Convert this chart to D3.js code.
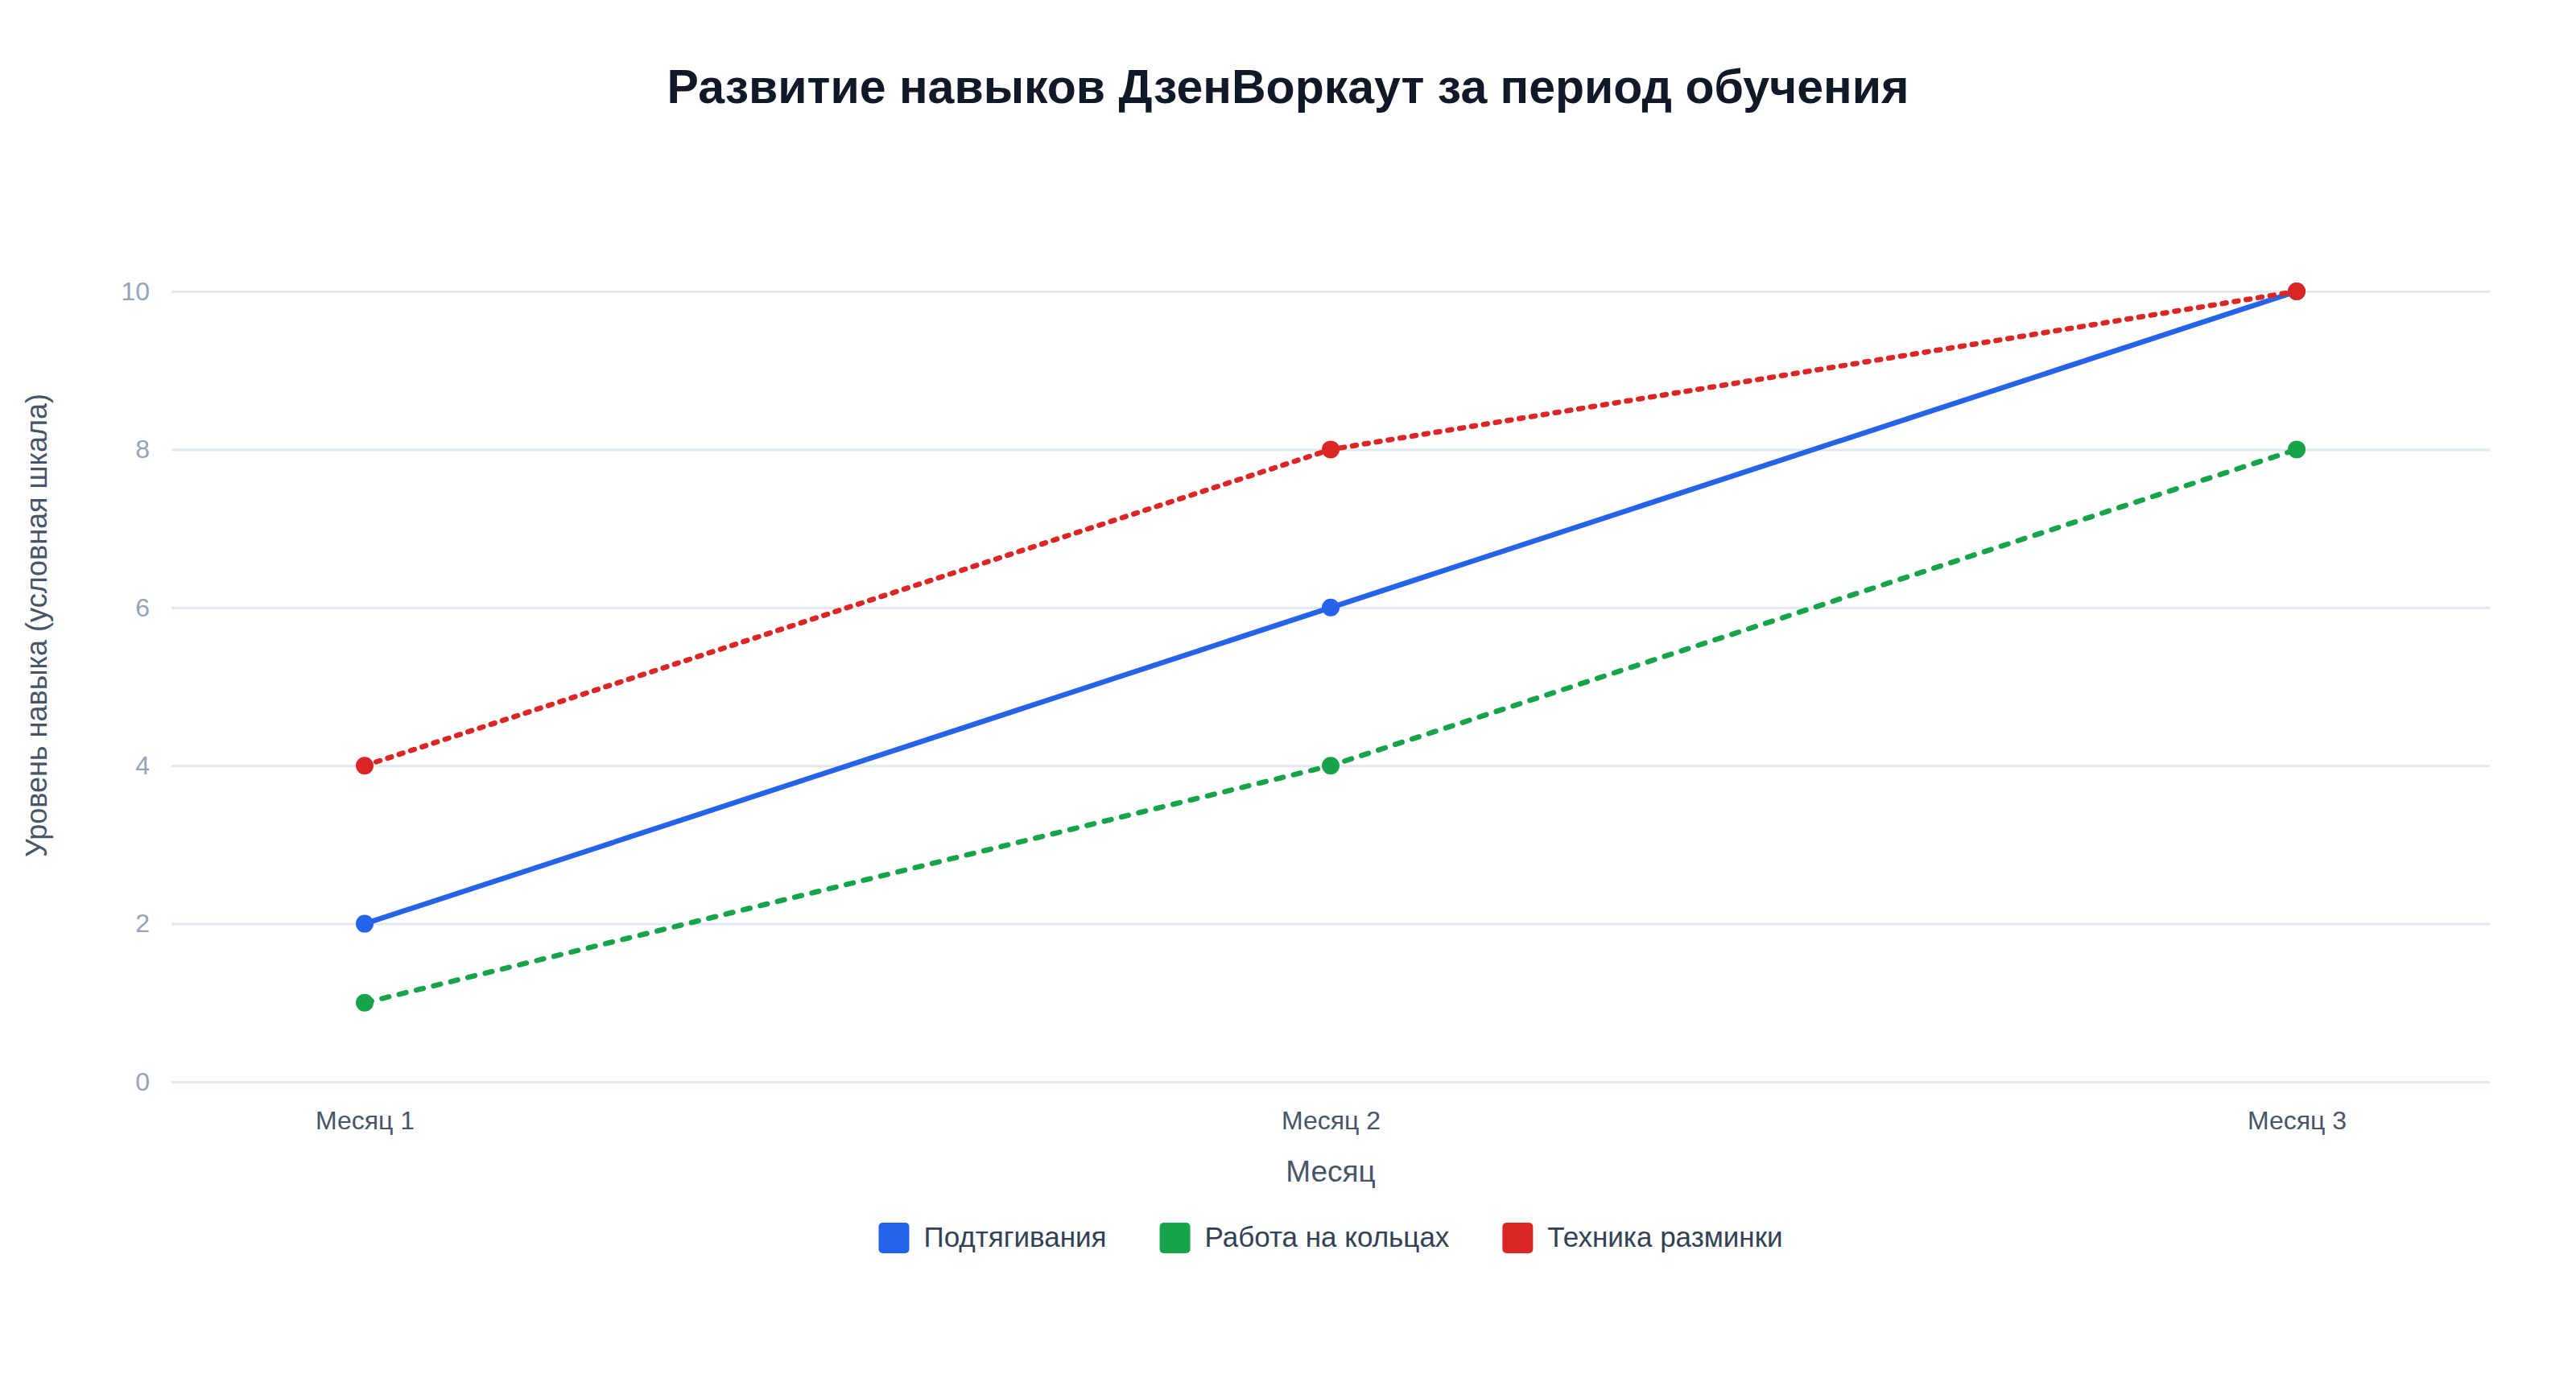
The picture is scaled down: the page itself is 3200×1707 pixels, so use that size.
<!DOCTYPE html>
<html lang="ru">
<head>
<meta charset="utf-8">
<title>Развитие навыков ДзенВоркаут</title>
<script src="https://cdn.jsdelivr.net/npm/d3@7"></script>
<style>
  html, body { margin: 0; padding: 0; background: #ffffff; }
  svg { display: block; font-family: "Liberation Sans", Arial, Helvetica, sans-serif; }
</style>
</head>
<body>
<svg id="chart"></svg>
<script>
// chart data
const months = ["Месяц 1", "Месяц 2", "Месяц 3"];
const seriesNames = ["Подтягивания", "Работа на кольцах", "Техника разминки"];
const pullups = [2, 6, 10];
const ringWork = [1, 4, 8];
const warmupTechnique = [4, 8, 10];
const yTicks = [0, 2, 4, 6, 8, 10];

const seriesColors = ["#2563eb", "#16a34a", "#dc2626"];
const seriesDash = [null, "9,13", "5,10"];

const W = 3200, H = 1707;
const plot = { left: 213, right: 3093, top: 362, bottom: 1344 };

const svg = d3.select("#chart").attr("width", W).attr("height", H);
svg.append("rect").attr("width", W).attr("height", H).attr("fill", "#ffffff");

const x = d3.scalePoint().domain(months).range([plot.left, plot.right]).padding(0.2);
const y = d3.scaleLinear().domain([0, 10]).range([plot.bottom, plot.top]);

// title
svg.append("text")
  .attr("x", W / 2).attr("y", 128)
  .attr("text-anchor", "middle")
  .attr("font-size", 59).attr("font-weight", "bold")
  .attr("fill", "#111827")
  .text("Развитие навыков ДзенВоркаут за период обучения");

// y grid + tick labels
const yAxis = svg.append("g")
  .attr("transform", `translate(${plot.left},0)`)
  .call(d3.axisLeft(y).tickValues(yTicks).tickSize(-(plot.right - plot.left)).tickPadding(27));
yAxis.select(".domain").remove();
yAxis.selectAll(".tick line").attr("stroke", "#e2e8f0").attr("stroke-width", 3);
yAxis.selectAll(".tick text")
  .attr("font-size", 32).attr("fill", "#94a3b8")
  .attr("font-family", "'Liberation Sans', Arial, sans-serif");

// x tick labels
const xAxis = svg.append("g")
  .attr("transform", `translate(0,${plot.bottom})`)
  .call(d3.axisBottom(x).tickSize(0).tickPadding(36));
xAxis.select(".domain").remove();
xAxis.selectAll(".tick text")
  .attr("font-size", 32).attr("fill", "#475569")
  .attr("font-family", "'Liberation Sans', Arial, sans-serif");

// axis titles
svg.append("text")
  .attr("x", (plot.left + plot.right) / 2).attr("y", 1468)
  .attr("text-anchor", "middle")
  .attr("font-size", 37).attr("fill", "#475569")
  .text("Месяц");

svg.append("text")
  .attr("transform", "translate(58,777) rotate(-90)")
  .attr("text-anchor", "middle")
  .attr("font-size", 36).attr("fill", "#475569")
  .text("Уровень навыка (условная шкала)");

// series
const series = [pullups, ringWork, warmupTechnique].map((vals, i) => ({
  name: seriesNames[i],
  color: seriesColors[i],
  dash: seriesDash[i],
  points: vals.map((v, j) => ({ month: months[j], value: v }))
}));

const line = d3.line().x(d => x(d.month)).y(d => y(d.value));

series.forEach(s => {
  const g = svg.append("g");
  g.append("path")
    .datum(s.points)
    .attr("d", line)
    .attr("fill", "none")
    .attr("stroke", s.color)
    .attr("stroke-width", 6.5)
    .attr("stroke-linecap", s.dash ? "round" : "butt")
    .attr("stroke-dasharray", s.dash);
  g.selectAll("circle")
    .data(s.points)
    .join("circle")
    .attr("cx", d => x(d.month))
    .attr("cy", d => y(d.value))
    .attr("r", 11)
    .attr("fill", s.color);
});

// legend
const legend = svg.append("g");
let lx = 0;
series.forEach(s => {
  const item = legend.append("g").attr("transform", `translate(${lx},0)`);
  item.append("rect")
    .attr("x", 0).attr("y", 1519)
    .attr("width", 38).attr("height", 38)
    .attr("rx", 5)
    .attr("fill", s.color);
  const t = item.append("text")
    .attr("x", 56).attr("y", 1549)
    .attr("font-size", 35).attr("fill", "#334155")
    .text(s.name);
  lx += 56 + t.node().getComputedTextLength() + 66;
});
const legendWidth = lx - 66;
legend.attr("transform", `translate(${(plot.left + plot.right) / 2 - legendWidth / 2},0)`);
</script>
</body>
</html>
